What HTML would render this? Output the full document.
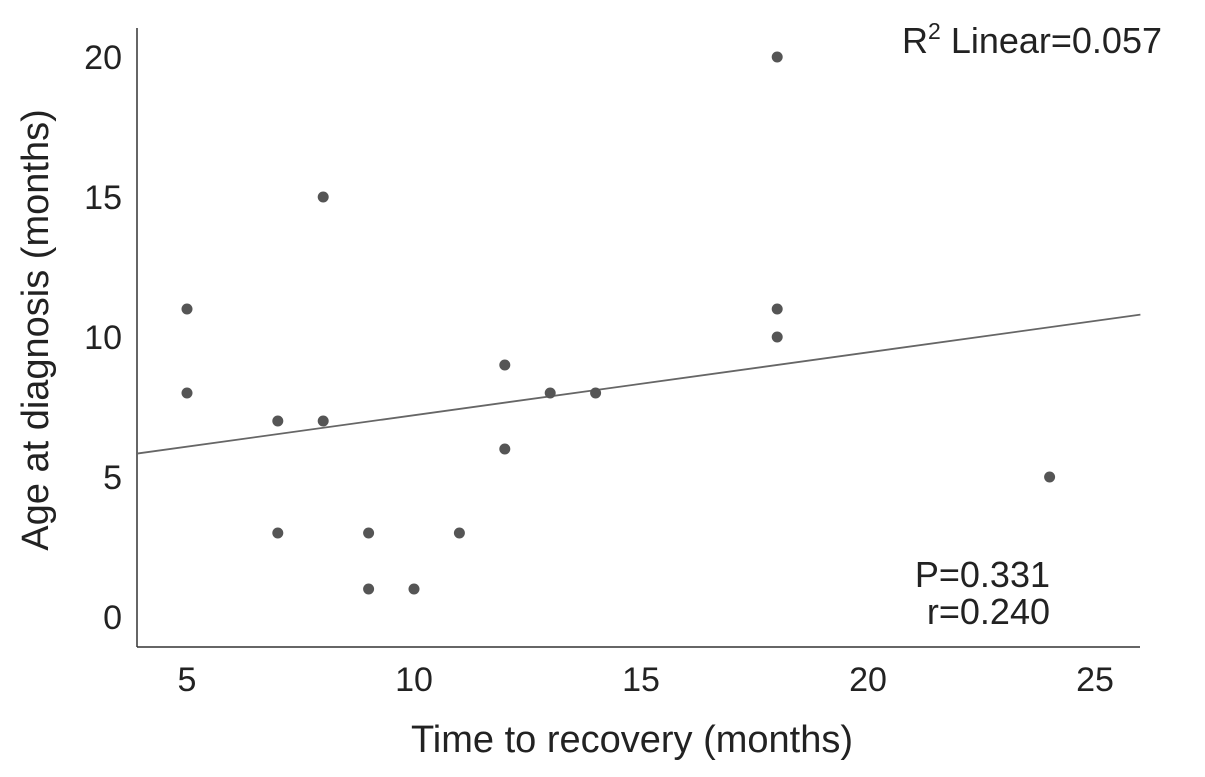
<!DOCTYPE html>
<html><head><meta charset="utf-8"><style>
html,body{margin:0;padding:0;background:#fff;}
svg{display:block;font-family:"Liberation Sans",sans-serif;}
</style></head><body>
<svg id="chart" width="1205" height="777" viewBox="0 0 1205 777">
<g id="axes"></g>
<g id="marks"></g>
<text x="1162" y="53" font-size="36" text-anchor="end" fill="#222">R<tspan dy="-14" font-size="23">2</tspan><tspan dy="14"> Linear=0.057</tspan></text>
<text x="1050" y="587" font-size="36" text-anchor="end" fill="#222">P=0.331</text>
<text x="1050" y="624" font-size="36" text-anchor="end" fill="#222">r=0.240</text>
<text x="632" y="752" font-size="38" text-anchor="middle" fill="#222">Time to recovery (months)</text>
<text transform="translate(48,330) rotate(-90)" font-size="38" text-anchor="middle" fill="#222">Age at diagnosis (months)</text>
</svg>
<script>
const xValues=[5,5,7,7,8,8,9,9,10,11,12,12,13,14,18,18,18,24];
const yValues=[11,8,7,3,15,7,3,1,1,3,9,6,8,8,20,11,10,5];
const xTicks=[5,10,15,20,25];
const yTicks=[0,5,10,15,20];
const xMin=3.9,xMax=26.0;
const sx=v=>187+(v-5)*45.4;
const sy=v=>617-v*28;
const NS="http://www.w3.org/2000/svg";
const axes=document.getElementById('axes'),marks=document.getElementById('marks');
function mk(tag,at,parent){const e=document.createElementNS(NS,tag);for(const k in at)e.setAttribute(k,at[k]);parent.appendChild(e);return e;}
const yAxis=mk('line',{x1:137,y1:28,x2:137,y2:647,stroke:'#333','stroke-width':1.5},axes);


const xAxis=mk('line',{x1:137,y1:647,x2:1140,y2:647,stroke:'#333','stroke-width':1.5},axes);


xTicks.forEach(t=>{const e=mk('text',{x:sx(t),y:691,'font-size':34,'text-anchor':'middle',fill:'#222'},axes);e.textContent=t;

});
yTicks.forEach(t=>{const e=mk('text',{x:122,y:sy(t)+12,'font-size':34,'text-anchor':'end',fill:'#222'},axes);e.textContent=t;

});
const n=xValues.length,mx=xValues.reduce((a,b)=>a+b)/n,my=yValues.reduce((a,b)=>a+b)/n;
let sxy=0,sxx=0;for(let i=0;i<n;i++){sxy+=(xValues[i]-mx)*(yValues[i]-my);sxx+=(xValues[i]-mx)**2;}
const b=sxy/sxx,a=my-b*mx;
const fit=mk('line',{x1:sx(xMin),y1:sy(a+b*xMin),x2:sx(xMax),y2:sy(a+b*xMax),stroke:'#666','stroke-width':1.8},marks);


xValues.forEach((x,i)=>{const c=mk('circle',{cx:sx(x),cy:sy(yValues[i]),r:5.5,fill:'#555'},marks);

});
</script>
</body></html>
